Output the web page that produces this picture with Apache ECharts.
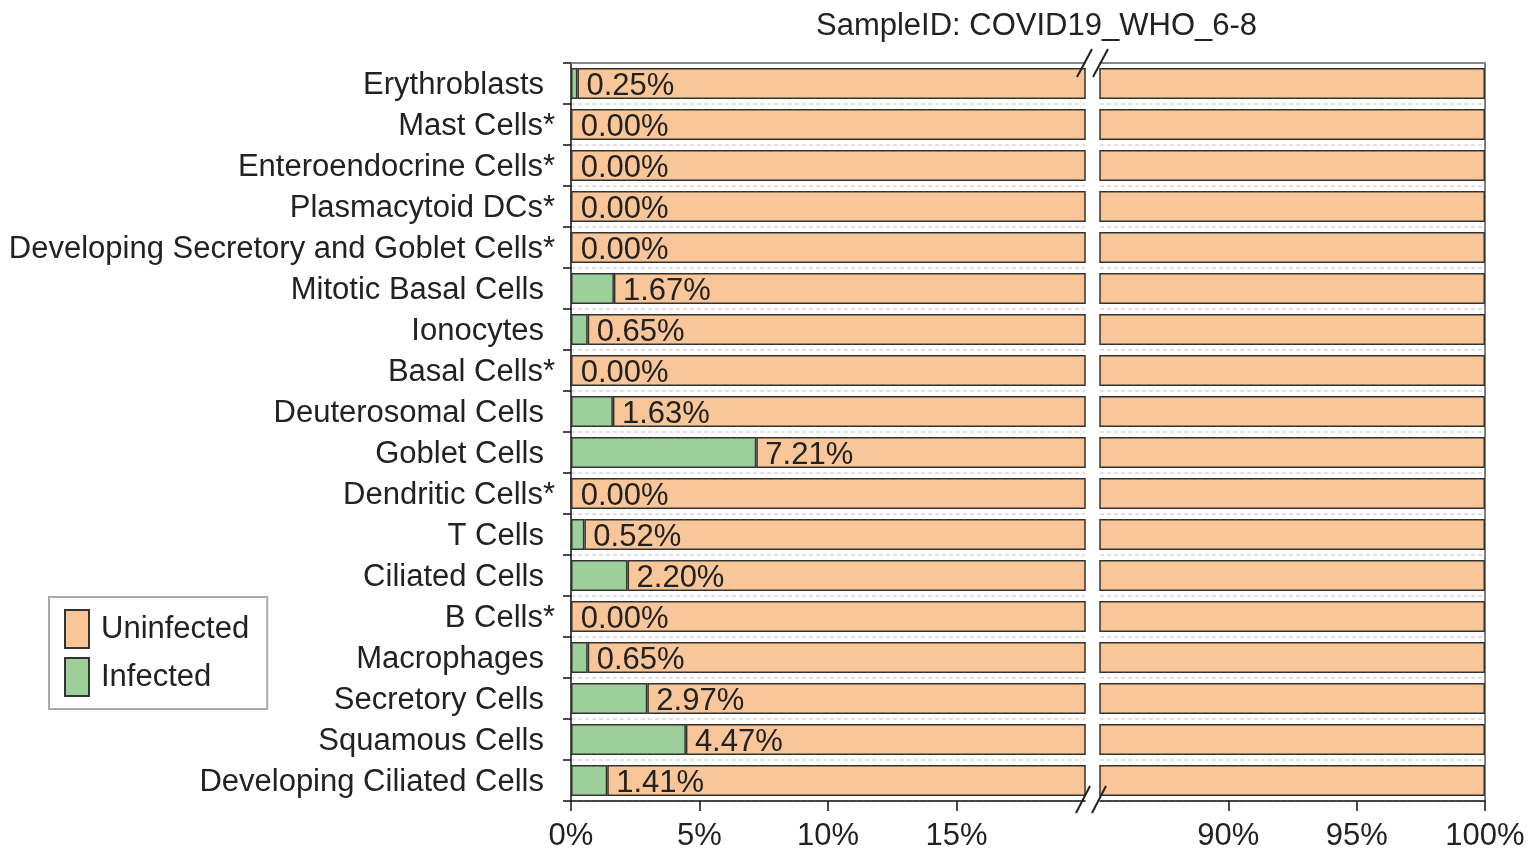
<!DOCTYPE html>
<html>
<head>
<meta charset="utf-8">
<script src="https://cdn.jsdelivr.net/npm/echarts@6/dist/echarts.min.js"></script>
<style>
html, body { margin: 0; padding: 0; background: #fff; }
#chart { width: 1535px; height: 863px; }
</style>
</head>
<body>
<div id="chart"></div>
<script>
var cellTypes = ['Erythroblasts', 'Mast Cells*', 'Enteroendocrine Cells*', 'Plasmacytoid DCs*',
	'Developing Secretory and Goblet Cells*', 'Mitotic Basal Cells', 'Ionocytes', 'Basal Cells*',
	'Deuterosomal Cells', 'Goblet Cells', 'Dendritic Cells*', 'T Cells', 'Ciliated Cells',
	'B Cells*', 'Macrophages', 'Secretory Cells', 'Squamous Cells', 'Developing Ciliated Cells'];
var infected = [0.25, 0.00, 0.00, 0.00, 0.00, 1.67, 0.65, 0.00, 1.63, 7.21, 0.00, 0.52, 2.20, 0.00, 0.65, 2.97, 4.47, 1.41];
var uninfected = [99.75, 100, 100, 100, 100, 98.33, 99.35, 100, 98.37, 92.79, 100, 99.48, 97.80, 100, 99.35, 97.03, 95.53, 98.59];
var leftTicks = [0, 5, 10, 15];
var rightTicks = [90, 95, 100];

var greenColor = '#9dcf9b';
var orangeColor = '#f8c699';
var textColor = '#222';
var fontSize = 31;

var myChart = echarts.init(document.getElementById('chart'));

function pct(v) { return v + '%'; }

function catAxis(grid, right) {
	return {
		type: 'category',
		gridIndex: grid,
		data: cellTypes,
		inverse: true,
		position: right ? 'right' : 'left',
		axisLine: { show: true, lineStyle: { color: right ? '#555' : '#111', width: 1.5 } },
		axisTick: { show: !right, length: 8, lineStyle: { color: '#111', width: 1.5 } },
		axisLabel: {
			show: !right,
			fontSize: fontSize,
			color: textColor,
			margin: 16,
			padding: [4, 0, 0, 0],
			fontFamily: 'Liberation Sans',
			// asterisk hangs past the label edge, like the original
			formatter: function (v) { return /\*$/.test(v) ? v : v + '{pad|}'; },
			rich: { pad: { width: 11 } }
		},
		splitLine: { show: true, lineStyle: { color: '#d8d8d8', type: [4, 3], width: 1.5 } }
	};
}

function valAxis(grid, min, max, ticks) {
	return {
		type: 'value',
		gridIndex: grid,
		min: min,
		max: max,
		interval: 5,
		axisLine: { show: true, lineStyle: { color: '#111', width: 1.5 } },
		axisTick: { show: true, length: 10, customValues: ticks, lineStyle: { color: '#111', width: 1.5 } },
		axisLabel: { customValues: ticks, formatter: pct, fontSize: fontSize, color: textColor, margin: 20, fontFamily: 'Liberation Sans' },
		splitLine: { show: false }
	};
}

function topAxis(grid, min, max) {
	return {
		type: 'value', gridIndex: grid, position: 'top', min: min, max: max,
		axisLine: { show: true, lineStyle: { color: '#888', width: 2 } },
		axisTick: { show: false }, axisLabel: { show: false }, splitLine: { show: false }
	};
}

function barSeries(name, data, grid, color, withLabel) {
	return {
		name: name,
		type: 'bar',
		stack: 'g' + grid,
		xAxisIndex: grid,
		yAxisIndex: grid,
		data: data,
		barWidth: '76%',
		z: withLabel ? 3 : 2,
		itemStyle: { color: color, borderColor: '#333', borderWidth: 1.5 },
		label: {
			show: withLabel,
			position: 'right',
			distance: 9,
			offset: [0, 3],
			fontSize: fontSize,
			color: textColor,
			fontFamily: 'Liberation Sans',
			formatter: function (p) { return p.value.toFixed(2) + '%'; }
		},
		emphasis: { disabled: true }
	};
}

function slash(x1, y1, x2, y2) {
	return { type: 'line', shape: { x1: x1, y1: y1, x2: x2, y2: y2 }, style: { stroke: '#222', lineWidth: 2 }, z: 100 };
}

var option = {
	animation: false,
	textStyle: { fontFamily: 'Liberation Sans' },
	title: {
		text: 'SampleID: COVID19_WHO_6-8',
		left: 811,
		top: 6,
		textStyle: { fontSize: fontSize, fontWeight: 'normal', color: textColor, fontFamily: 'Liberation Sans' }
	},
	legend: {
		data: ['Uninfected', 'Infected'],
		orient: 'vertical',
		left: 49,
		top: 597,
		icon: 'rect',
		itemWidth: 24,
		itemHeight: 38,
		itemGap: 8,
		padding: [12, 18, 12, 15],
		borderColor: '#aaa',
		borderWidth: 2,
		textStyle: { fontSize: fontSize, color: textColor, padding: [0, 0, 0, 7], fontFamily: 'Liberation Sans' }
	},
	grid: [
		{ left: 571, top: 63, width: 514, height: 738 },
		{ left: 1100, top: 63, width: 385, height: 738 }
	],
	xAxis: [
		valAxis(0, 0, 20, leftTicks),
		valAxis(1, 85, 100, rightTicks),
		topAxis(0, 0, 20),
		topAxis(1, 85, 100)
	],
	yAxis: [catAxis(0, false), catAxis(1, true)],
	series: [
		barSeries('Infected', infected, 0, greenColor, true),
		barSeries('Uninfected', uninfected, 0, orangeColor, false),
		barSeries('Infected', infected, 1, greenColor, false),
		barSeries('Uninfected', uninfected, 1, orangeColor, false)
	],
	graphic: [
		slash(1077, 77, 1092, 49),
		slash(1093, 77, 1108, 49),
		slash(1076, 813, 1090, 786),
		slash(1092, 813, 1106, 786)
	]
};
myChart.setOption(option);
</script>
</body>
</html>
